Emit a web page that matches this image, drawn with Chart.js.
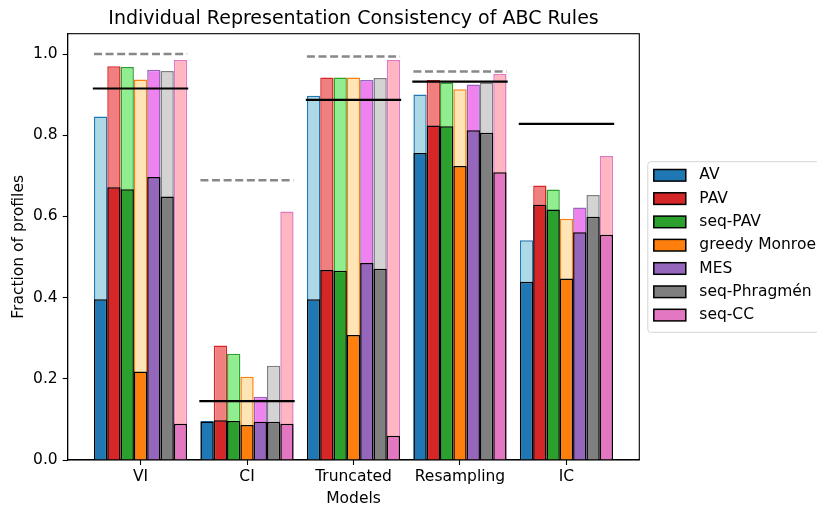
<!DOCTYPE html>
<html>
<head>
<meta charset="utf-8">
<script src="https://cdn.jsdelivr.net/npm/chart.js@4.4.1/dist/chart.umd.min.js"></script>
<style>
  html, body { margin: 0; padding: 0; background: #fff; overflow: hidden; }
  #chart { display: block; }
</style>
</head>
<body>
<canvas id="chart" width="817" height="506"></canvas>
<script>
// data
const categories = ['VI', 'CI', 'Truncated', 'Resampling', 'IC'];
const rules = ['AV', 'PAV', 'seq-PAV', 'greedy Monroe', 'MES', 'seq-Phragmén', 'seq-CC'];

// taller pale bars
const upperAV       = [0.846, 0.096, 0.897, 0.900, 0.541];
const upperPAV      = [0.970, 0.282, 0.942, 0.936, 0.676];
const upperSeqPAV   = [0.968, 0.262, 0.942, 0.929, 0.666];
const upperMonroe   = [0.937, 0.205, 0.942, 0.913, 0.594];
const upperMES      = [0.961, 0.156, 0.936, 0.925, 0.622];
const upperPhragmen = [0.958, 0.232, 0.941, 0.930, 0.653];
const upperSeqCC    = [0.985, 0.612, 0.985, 0.951, 0.749];

// shorter solid bars
const lowerAV       = [0.396, 0.095, 0.396, 0.756, 0.439];
const lowerPAV      = [0.672, 0.098, 0.468, 0.824, 0.629];
const lowerSeqPAV   = [0.667, 0.096, 0.466, 0.822, 0.617];
const lowerMonroe   = [0.218, 0.086, 0.308, 0.724, 0.447];
const lowerMES      = [0.697, 0.094, 0.485, 0.812, 0.561];
const lowerPhragmen = [0.649, 0.094, 0.471, 0.806, 0.599];
const lowerSeqCC    = [0.089, 0.089, 0.060, 0.709, 0.555];

// reference levels per category
const solidLevels  = [0.915, 0.145, 0.887, 0.932, 0.828];
const dashedLevels = [1.000, 0.689, 0.994, 0.957, null];

const yTicks = [0, 0.2, 0.4, 0.6, 0.8, 1.0];

const upperSeries = [upperAV, upperPAV, upperSeqPAV, upperMonroe, upperMES, upperPhragmen, upperSeqCC];
const lowerSeries = [lowerAV, lowerPAV, lowerSeqPAV, lowerMonroe, lowerMES, lowerPhragmen, lowerSeqCC];

const darkColors  = ['#1f77b4', '#d62728', '#2ca02c', '#ff7f0e', '#9467bd', '#7f7f7f', '#e377c2'];
const lightColors = ['#add8e6', '#f08080', '#90ee90', '#ffe4b5', '#ee82ee', '#d3d3d3', '#ffb6c1'];

const FONT = 'DejaVu Sans';
const HALF = 0.4375;

Chart.defaults.font.family = FONT;
Chart.defaults.color = '#000';

const toPoints = vals => vals.map((v, i) => ({ x: i, y: v }));

const levelPoints = levels => {
  const pts = [];
  levels.forEach((v, i) => {
    if (v === null) return;
    pts.push({ x: i - HALF, y: v }, { x: i + HALF, y: v }, { x: i + HALF, y: null });
  });
  return pts;
};

const datasets = [];
rules.forEach((name, r) => {
  datasets.push({
    type: 'bar',
    label: name,
    data: toPoints(lowerSeries[r]),
    stack: name,
    backgroundColor: darkColors[r],
    borderColor: '#000',
    borderWidth: 1.5,
    order: 1,
    isMain: true
  });
  datasets.push({
    type: 'bar',
    label: name + ' (upper)',
    data: toPoints(upperSeries[r]),
    stack: name,
    backgroundColor: lightColors[r],
    borderColor: darkColors[r],
    borderWidth: 1.5,
    order: 2
  });
});

datasets.push({
  type: 'line',
  label: 'solid',
  data: levelPoints(solidLevels),
  borderColor: '#000',
  borderWidth: 2.2,
  borderCapStyle: 'square',
  pointRadius: 0,
  spanGaps: false,
  order: 0
});
datasets.push({
  type: 'line',
  label: 'dashed',
  data: levelPoints(dashedLevels),
  borderColor: '#888',
  borderWidth: 2.6,
  borderDash: [8, 3.6],
  pointRadius: 0,
  spanGaps: false,
  order: 0
});

// spines on top/right and the matplotlib style legend
const framePlugin = {
  id: 'frame',
  afterDraw(chart) {
    const { ctx, chartArea: a } = chart;
    ctx.save();
    ctx.strokeStyle = '#000';
    ctx.lineWidth = 1.1;
    ctx.strokeRect(a.left, a.top, a.right - a.left, a.bottom - a.top);

    // legend box
    const lx = a.right + 8.5, ly = 161.7, lw = 190, lh = 170.6;
    ctx.beginPath();
    ctx.roundRect(lx, ly, lw, lh, 3);
    ctx.fillStyle = 'rgba(255,255,255,0.8)';
    ctx.fill();
    ctx.strokeStyle = '#d4d4d4';
    ctx.lineWidth = 1;
    ctx.stroke();

    ctx.font = '15.5px "' + FONT + '"';
    ctx.textBaseline = 'middle';
    ctx.textAlign = 'left';
    const mains = chart.data.datasets.filter(d => d.isMain);
    mains.forEach((d, k) => {
      const cy = 175.3 + k * 23.3;
      ctx.fillStyle = d.backgroundColor;
      ctx.fillRect(lx + 6, cy - 5.8, 32, 11.6);
      ctx.strokeStyle = '#000';
      ctx.lineWidth = 1.5;
      ctx.strokeRect(lx + 6, cy - 5.8, 32, 11.6);
      ctx.fillStyle = '#000';
      ctx.fillText(d.label, lx + 51.5, cy);
    });
    ctx.restore();
  }
};

new Chart(document.getElementById('chart'), {
  data: { datasets },
  options: {
    responsive: false,
    animation: false,
    devicePixelRatio: 1,
    layout: { padding: { left: 0, right: 177.7, top: 0, bottom: 0 } },
    datasets: {
      bar: { categoryPercentage: 0.875, barPercentage: 1.0, grouped: true }
    },
    plugins: {
      legend: { display: false },
      tooltip: { enabled: false },
      title: {
        display: true,
        text: 'Individual Representation Consistency of ABC Rules',
        fullSize: false,
        font: { size: 19, weight: 'normal', family: FONT },
        color: '#000',
        padding: { top: 7.7, bottom: 3.2 }
      }
    },
    scales: {
      x: {
        type: 'linear',
        stacked: true,
        offset: false,
        min: -0.684,
        max: 4.684,
        afterBuildTicks: s => { s.ticks = categories.map((c, i) => ({ value: i })); },
        afterFit: s => { s.height = 46; },
        ticks: {
          autoSkip: false,
          maxRotation: 0,
          padding: 3,
          font: { size: 15.5 },
          color: '#000',
          callback: v => categories[v]
        },
        grid: { offset: false, drawOnChartArea: false, drawTicks: true, tickLength: 5, tickColor: '#000', tickWidth: 1.1 },
        border: { display: true, color: '#000', width: 1.1 },
        title: {
          display: true,
          text: 'Models',
          font: { size: 15.5 },
          color: '#000',
          padding: { top: 0, bottom: -2.6 }
        }
      },
      y: {
        type: 'linear',
        stacked: false,
        min: 0,
        max: 1.05,
        afterBuildTicks: s => { s.ticks = yTicks.map(v => ({ value: v })); },
        afterFit: s => { s.width = 67.7; },
        ticks: {
          padding: 5,
          font: { size: 15.5 },
          color: '#000',
          callback: v => v.toFixed(1)
        },
        grid: { drawOnChartArea: false, drawTicks: true, tickLength: 5, tickColor: '#000', tickWidth: 1.1 },
        border: { display: true, color: '#000', width: 1.1 },
        title: {
          display: true,
          text: 'Fraction of profiles',
          font: { size: 15.5 },
          color: '#000',
          padding: { top: 10, bottom: 0 }
        }
      }
    }
  },
  plugins: [framePlugin]
});
</script>
</body>
</html>
